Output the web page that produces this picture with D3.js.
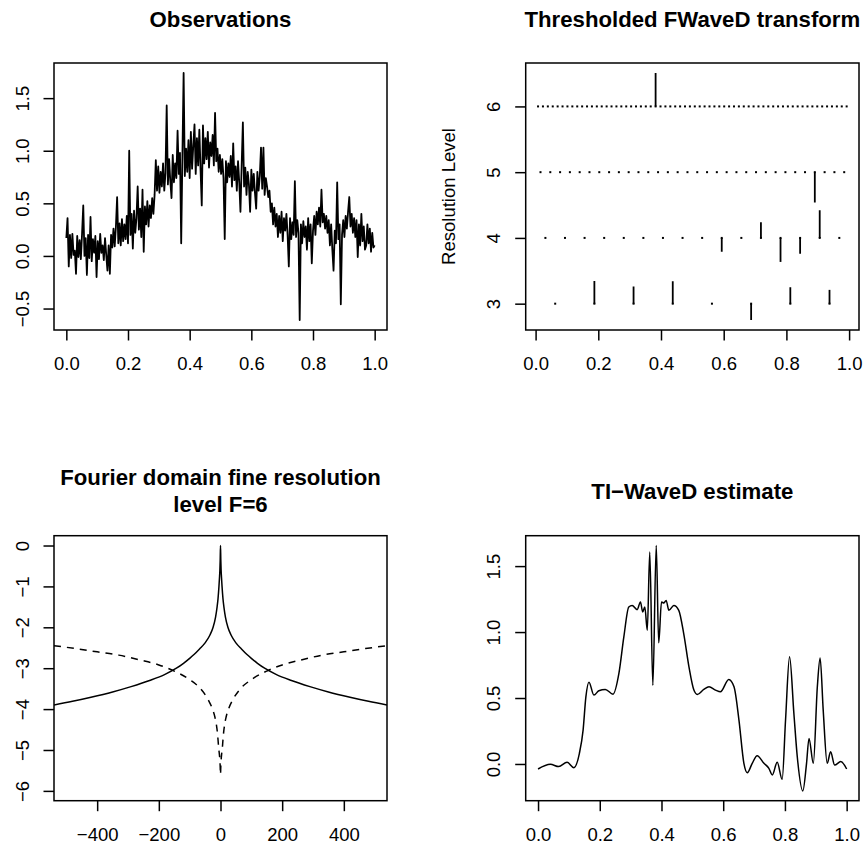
<!DOCTYPE html>
<html>
<head>
<meta charset="utf-8">
<script src="https://cdn.jsdelivr.net/npm/d3@7"></script>
<style>
  body { margin: 0; background: #fff; }
  text { font-family: "Liberation Sans", Arial, Helvetica, sans-serif; fill: #000; }
</style>
</head>
<body>
<div id="chart"></div>
<script>
// ---- data ----

// panel 1: observations (evenly spaced on [0, 1])
const obsY = [
  0.17, 0.36, -0.10, 0.20, -0.02, 0.21, 0.01, 0.05, -0.17, 0.19, -0.01, 0.15, -0.03, 0.21, 0.48, 0.00,
  0.17, -0.18, 0.20, -0.02, 0.37, -0.05, 0.16, 0.03, 0.19, -0.20, 0.14, -0.03, 0.21, 0.03, 0.10, -0.04,
  0.17, 0.01, -0.14, 0.10, -0.17, 0.20, 0.08, 0.26, 0.09, 0.28, 0.56, 0.12, 0.31, 0.10, 0.35, 0.14,
  0.30, 0.16, 0.38, 0.12, 1.00, 0.20, 0.40, 0.07, 0.43, 0.22, 0.36, 0.66, 0.25, 0.45, 0.18, 0.63,
  0.04, 0.47, 0.30, 0.52, 0.28, 0.48, 0.36, 0.55, 0.40, 0.58, 0.91, 0.62, 0.85, 0.60, 0.80, 0.66,
  0.88, 0.62, 0.79, 1.43, 0.68, 0.92, 0.71, 0.55, 0.96, 0.70, 0.88, 0.74, 1.19, 0.78, 0.98, 0.12,
  0.95, 1.74, 0.76, 1.02, 0.80, 1.10, 0.74, 1.18, 0.83, 1.05, 1.25, 0.78, 1.12, 0.86, 1.20, 0.82,
  0.48, 1.24, 0.88, 1.12, 0.92, 1.18, 0.84, 1.08, 0.95, 1.15, 0.86, 1.36, 0.90, 1.02, 0.80, 0.96,
  0.78, 0.92, 0.74, 0.16, 0.90, 0.70, 0.88, 0.75, 0.95, 0.66, 1.07, 0.72, 0.85, 0.62, 0.90, 0.70,
  0.42, 0.86, 1.27, 0.66, 0.84, 0.58, 0.80, 0.68, 0.42, 0.82, 0.62, 0.78, 0.60, 0.45, 0.80, 0.62,
  0.76, 1.03, 0.64, 1.03, 0.58, 0.74, 0.66, 0.56, 0.62, 0.42, 0.50, 0.30, 0.46, 0.28, 0.40, 0.18,
  0.38, 0.22, 0.42, 0.14, 0.36, 0.24, 0.40, 0.20, -0.10, 0.36, 0.16, 0.32, 0.20, 0.71, 0.18, 0.34,
  0.22, -0.61, 0.30, 0.12, 0.33, 0.18, 0.28, 0.06, 0.36, 0.14, 0.30, -0.07, 0.24, 0.38, 0.20, 0.42,
  0.30, 0.46, 0.28, 0.63, 0.32, 0.40, 0.26, 0.38, 0.22, 0.34, 0.10, 0.30, 0.06, -0.14, 0.24, 0.12,
  0.70, 0.16, 0.30, -0.46, 0.20, 0.34, 0.18, 0.38, 0.26, 0.42, 0.56, 0.28, 0.40, 0.22, 0.36, 0.18,
  0.34, -0.01, 0.30, 0.10, 0.40, 0.14, 0.28, 0.06, 0.10, 0.30, 0.12, 0.26, 0.04, 0.22, 0.08, 0.10
]

// panel 2: thresholded coefficients per resolution level
const levels = [3, 4, 5, 6]
const coefLevel3 = [0, 0.345, 0.26, 0.34, 0, -0.25, 0.25, 0.21]
const coefLevel4 = [0, 0, 0, 0, 0, 0, 0, 0, 0, -0.21, 0, 0.24, -0.365, -0.24, 0.42, 0]
const coefLevel5 = [
  0, 0, 0, 0, 0, 0, 0, 0, 0, 0, 0, 0, 0, 0, 0, 0,
  0, 0, 0, 0, 0, 0, 0, 0, 0, 0, 0, 0, -0.46, 0, 0, 0
]
const coefLevel6 = [
  0, 0, 0, 0, 0, 0, 0, 0, 0, 0, 0, 0, 0, 0, 0, 0,
  0, 0, 0, 0, 0, 0, 0, 0, 0.51, 0, 0, 0, 0, 0, 0, 0,
  0, 0, 0, 0, 0, 0, 0, 0, 0, 0, 0, 0, 0, 0, 0, 0,
  0, 0, 0, 0, 0, 0, 0, 0, 0, 0, 0, 0, 0, 0, 0, 0
]

// panel 3: Fourier domain curves
const solidX = [-540, -480, -420, -350, -290, -230, -180, -143, -120, -100, -85, -68, -50, -35, -24, -16, -11, -8, -5, -3, -2, -1,
  0, 1, 2, 3, 5, 8, 11, 16, 24, 35, 50, 68, 85, 100, 120, 143, 180, 230, 290, 350, 420, 480, 540]
const solidY = [-3.9, -3.81, -3.71, -3.58, -3.45, -3.3, -3.15, -3.0, -2.88, -2.76, -2.66, -2.53, -2.38, -2.2, -2.0, -1.75, -1.5, -1.3, -1.0, -0.75, -0.6, -0.35,
  0, -0.35, -0.6, -0.75, -1.0, -1.3, -1.5, -1.75, -2.0, -2.2, -2.38, -2.53, -2.66, -2.76, -2.88, -3.0, -3.15, -3.3, -3.45, -3.58, -3.71, -3.81, -3.9]
const dashX = [-540, -470, -400, -330, -260, -200, -150, -100, -65, -40, -26, -18, -13, -10, -8, -6, -4, -2, -1,
  0, 1, 2, 4, 6, 8, 10, 13, 18, 26, 40, 65, 100, 150, 200, 260, 330, 400, 470, 540]
const dashY = [-2.45, -2.52, -2.6, -2.68, -2.8, -2.92, -3.07, -3.28, -3.5, -3.77, -4.0, -4.2, -4.4, -4.58, -4.75, -4.95, -5.08, -5.25, -5.4,
  -5.6, -5.4, -5.25, -5.08, -4.95, -4.75, -4.58, -4.4, -4.2, -4.0, -3.77, -3.5, -3.28, -3.07, -2.92, -2.8, -2.68, -2.6, -2.52, -2.45]
const fourierXlim = [-500, 500]
const fourierYlim = [-6, 0]

// panel 4: TI-WaveD estimate
const tiX = [0.000, 0.040, 0.067, 0.094, 0.116, 0.134, 0.146, 0.155, 0.165, 0.181, 0.197, 0.218, 0.243, 0.262,
  0.278, 0.294, 0.305, 0.321, 0.332, 0.339, 0.346, 0.354, 0.362, 0.372, 0.383, 0.391, 0.400, 0.408, 0.415,
  0.424, 0.440, 0.456, 0.472, 0.489, 0.505, 0.516, 0.537, 0.554, 0.575, 0.591, 0.618, 0.635, 0.651, 0.667,
  0.678, 0.694, 0.710, 0.732, 0.748, 0.759, 0.775, 0.791, 0.802, 0.815, 0.829, 0.840, 0.858, 0.870, 0.878,
  0.892, 0.905, 0.914, 0.924, 0.937, 0.948, 0.961, 0.981, 1.000]
const tiY = [-0.038, -0.003, -0.020, 0.013, -0.028, 0.081, 0.257, 0.509, 0.62, 0.522, 0.555, 0.565, 0.529, 0.686,
  0.963, 1.190, 1.202, 1.170, 1.228, 1.152, 1.190, 1.013, 1.606, 0.597, 1.656, 0.918, 1.228, 1.220, 1.240,
  1.165, 1.202, 1.165, 0.988, 0.736, 0.560, 0.527, 0.565, 0.585, 0.560, 0.547, 0.640, 0.585, 0.333, 0.005,
  -0.066, 0.005, 0.063, 0.005, -0.033, -0.083, 0.013, -0.116, 0.333, 0.812, 0.383, 0.055, -0.204, 0.005, 0.194,
  0.005, 0.585, 0.804, 0.408, 0.005, 0.093, -0.008, 0.018, -0.038]

// tick labels
const unitTicks = [0, 0.2, 0.4, 0.6, 0.8, 1.0]
const obsYTicks = [-0.5, 0, 0.5, 1.0, 1.5]
const levelTicks = [3, 4, 5, 6]
const fourierXTicks = [-400, -200, 0, 200, 400]
const fourierYTicks = [0, -1, -2, -3, -4, -5, -6]
const tiYTicks = [0, 0.5, 1.0, 1.5]

// ---- layout ----
const W = 863, H = 846
const tickLen = 10.5
const fontSize = 18.5
const titleSize = 22.2
const lw = 1.5

const boxes = {
  tl: { x0: 54, x1: 387, y0: 63, y1: 330 },
  tr: { x0: 525.7, x1: 859, y0: 63, y1: 330 },
  bl: { x0: 54, x1: 387, y0: 535.7, y1: 800.7 },
  br: { x0: 525.7, x1: 859, y0: 535.7, y1: 800.7 }
}

// R style 4% padding of a range
const pad = ([a, b]) => { const d = (b - a) * 0.04; return [a - d, b + d] }

const svg = d3.select('#chart')
  .append('svg')
    .attr('width', W)
    .attr('height', H)

svg.append('rect').attr('width', W).attr('height', H).attr('fill', '#fff')

const fmt1 = d3.format('.1f')
const fmt0 = d3.format('d')

function drawPanel(key, x, y, xTicks, yTicks, xFmt, yFmt) {
  const box = boxes[key]
  const g = svg.append('g').attr('class', 'panel-' + key)

  g.append('clipPath')
    .attr('id', 'clip-' + key)
    .append('rect')
      .attr('x', box.x0).attr('y', box.y0)
      .attr('width', box.x1 - box.x0).attr('height', box.y1 - box.y0)

  // x axis
  const xa = g.append('g')
    .attr('transform', `translate(0,${box.y1})`)
    .call(d3.axisBottom(x).tickValues(xTicks).tickFormat(xFmt).tickSize(tickLen))
  xa.select('.domain').remove()
  xa.attr('font-family', null).attr('font-size', null)
  xa.selectAll('line').attr('stroke-width', lw)
  xa.selectAll('text')
    .attr('y', 40).attr('dy', null)
    .style('font-size', fontSize + 'px')

  // y axis with rotated labels
  const ya = g.append('g')
    .attr('transform', `translate(${box.x0},0)`)
    .call(d3.axisLeft(y).tickValues(yTicks).tickFormat(yFmt).tickSize(tickLen))
  ya.select('.domain').remove()
  ya.attr('font-family', null).attr('font-size', null)
  ya.selectAll('line').attr('stroke-width', lw)
  ya.selectAll('text')
    .attr('x', 0).attr('y', -25.5).attr('dy', null)
    .attr('transform', 'rotate(-90)')
    .attr('text-anchor', 'middle')
    .style('font-size', fontSize + 'px')

  // plot box
  g.append('rect')
    .attr('x', box.x0).attr('y', box.y0)
    .attr('width', box.x1 - box.x0).attr('height', box.y1 - box.y0)
    .attr('fill', 'none')
    .attr('stroke', '#000')
    .attr('stroke-width', lw)

  const plot = g.append('g').attr('clip-path', `url(#clip-${key})`)
  return { g, plot, box }
}

function title(box, lines, y0) {
  const cx = (box.x0 + box.x1) / 2
  lines.forEach((t, i) => {
    svg.append('text')
      .attr('x', cx)
      .attr('y', y0 + i * 26.7)
      .attr('text-anchor', 'middle')
      .style('font-size', titleSize + 'px')
      .style('font-weight', 'bold')
      .text(t)
  })
}

// ---- panel 1: Observations ----
{
  const box = boxes.tl
  const obsX = d3.range(obsY.length).map(i => i / (obsY.length - 1))
  const x = d3.scaleLinear().domain(pad(d3.extent(obsX))).range([box.x0, box.x1])
  const y = d3.scaleLinear().domain(pad(d3.extent(obsY))).range([box.y1, box.y0])
  const { plot } = drawPanel('tl', x, y, unitTicks, obsYTicks, fmt1, fmt1)

  plot.append('path')
    .datum(obsY)
    .attr('d', d3.line().x((d, i) => x(obsX[i])).y(d => y(d)))
    .attr('fill', 'none')
    .attr('stroke', '#000')
    .attr('stroke-width', 1.8)
    .attr('stroke-linejoin', 'round')

  title(box, ['Observations'], 26.7)
}

// ---- panel 2: Thresholded FWaveD transform ----
{
  const box = boxes.tr
  const coefs = [coefLevel3, coefLevel4, coefLevel5, coefLevel6]
  const coefData = []
  coefs.forEach((arr, li) => {
    const n = arr.length
    arr.forEach((v, k) => coefData.push({ level: levels[li], pos: (k + 0.5) / n, value: v }))
  })

  const x = d3.scaleLinear()
    .domain(pad(d3.extent(coefData, d => d.pos)))
    .range([box.x0, box.x1])
  const yExt = [
    d3.min(coefData, d => Math.min(d.level, d.level + d.value)),
    d3.max(coefData, d => Math.max(d.level, d.level + d.value))
  ]
  const y = d3.scaleLinear().domain(pad(yExt)).range([box.y1, box.y0])
  const { plot } = drawPanel('tr', x, y, unitTicks, levelTicks, fmt1, fmt0)

  plot.selectAll('rect.dot')
    .data(coefData)
    .enter()
    .append('rect')
      .attr('class', 'dot')
      .attr('x', d => x(d.pos) - 1)
      .attr('y', d => y(d.level) - 1)
      .attr('width', 2)
      .attr('height', 2)
      .attr('fill', '#000')

  plot.selectAll('line.coef')
    .data(coefData.filter(d => d.value !== 0))
    .enter()
    .append('line')
      .attr('class', 'coef')
      .attr('x1', d => x(d.pos))
      .attr('x2', d => x(d.pos))
      .attr('y1', d => y(d.level))
      .attr('y2', d => y(d.level + d.value))
      .attr('stroke', '#000')
      .attr('stroke-width', 1.8)

  svg.append('text')
    .attr('transform', `translate(${box.x0 - 71},${(box.y0 + box.y1) / 2}) rotate(-90)`)
    .attr('text-anchor', 'middle')
    .style('font-size', fontSize + 'px')
    .text('Resolution Level')

  title(box, ['Thresholded FWaveD transform'], 26.7)
}

// ---- panel 3: Fourier domain ----
{
  const box = boxes.bl
  const x = d3.scaleLinear().domain(pad(fourierXlim)).range([box.x0, box.x1])
  const y = d3.scaleLinear().domain(pad(fourierYlim)).range([box.y1, box.y0])
  const { plot } = drawPanel('bl', x, y, fourierXTicks, fourierYTicks, fmt0, fmt0)

  const line = d3.line().curve(d3.curveMonotoneX)

  plot.append('path')
    .attr('d', line(solidX.map((v, i) => [x(v), y(solidY[i])])))
    .attr('fill', 'none')
    .attr('stroke', '#000')
    .attr('stroke-width', lw)

  plot.append('path')
    .attr('d', line(dashX.map((v, i) => [x(v), y(dashY[i])])))
    .attr('fill', 'none')
    .attr('stroke', '#000')
    .attr('stroke-width', lw)
    .attr('stroke-dasharray', '7,6')

  title(box, ['Fourier domain fine resolution', 'level F=6'], 485)
}

// ---- panel 4: TI-WaveD estimate ----
{
  const box = boxes.br
  const x = d3.scaleLinear().domain(pad(d3.extent(tiX))).range([box.x0, box.x1])
  const y = d3.scaleLinear().domain(pad(d3.extent(tiY))).range([box.y1, box.y0])
  const { plot } = drawPanel('br', x, y, unitTicks, tiYTicks, fmt1, fmt1)

  plot.append('path')
    .attr('d', d3.line().curve(d3.curveMonotoneX)(tiX.map((v, i) => [x(v), y(tiY[i])])))
    .attr('fill', 'none')
    .attr('stroke', '#000')
    .attr('stroke-width', lw)

  title(box, ['TI\u2212WaveD estimate'], 499)
}
</script>
</body>
</html>
